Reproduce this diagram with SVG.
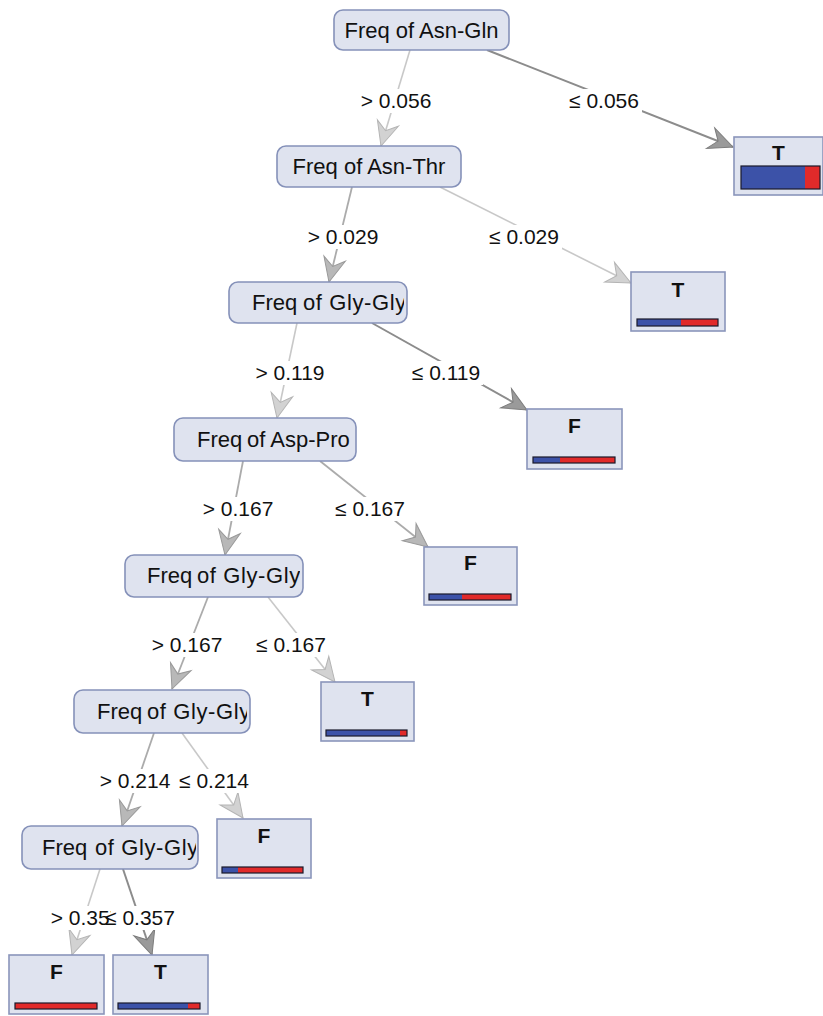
<svg xmlns="http://www.w3.org/2000/svg" width="823" height="1016" viewBox="0 0 823 1016">
  <style>
    .node rect { fill: #dfe3ef; stroke: #8591b9; stroke-width: 1.6; }
    .node text { font-family: "Liberation Sans", Arial, sans-serif; font-size: 22px; fill: #111; }
    .leaf rect.box { fill: #dfe3ef; stroke: #8a95bb; stroke-width: 1.6; }
    .leaf text { font-family: "Liberation Sans", Arial, sans-serif; font-size: 21px; font-weight: bold; fill: #111; text-anchor: middle; }
    .bar { stroke: #1a1a2a; stroke-width: 1.2; }
    .blue { fill: #3c52a8; }
    .red { fill: #e12a2a; }
    .edge { fill: none; }
    .light { stroke: #c8c8c8; stroke-width: 1.6; marker-end: url(#ahLight); }
    .mid { stroke: #ababab; stroke-width: 1.8; marker-end: url(#ahMid); }
    .dark { stroke: #8c8c8c; stroke-width: 2; marker-end: url(#ahDark); }
    .lbl text { font-family: "Liberation Sans", Arial, sans-serif; font-size: 21px; fill: #111; text-anchor: middle; }
    .lbl rect { fill: #ffffff; }
    .sp { letter-spacing: 0.6px; }
  </style>
  <defs>
    <marker id="ahLight" viewBox="-26 -13 28 26" refX="0" refY="0" markerWidth="28" markerHeight="26" markerUnits="userSpaceOnUse" orient="auto">
      <path d="M0,0 L-24,-11 L-16,0 L-24,11 Z" fill="#d2d2d2" stroke="#b4b4b4" stroke-width="1"/>
    </marker>
    <marker id="ahMid" viewBox="-26 -13 28 26" refX="0" refY="0" markerWidth="28" markerHeight="26" markerUnits="userSpaceOnUse" orient="auto">
      <path d="M0,0 L-24,-11 L-16,0 L-24,11 Z" fill="#b8b8b8" stroke="#999999" stroke-width="1"/>
    </marker>
    <marker id="ahDark" viewBox="-26 -13 28 26" refX="0" refY="0" markerWidth="28" markerHeight="26" markerUnits="userSpaceOnUse" orient="auto">
      <path d="M0,0 L-24,-11 L-16,0 L-24,11 Z" fill="#9a9a9a" stroke="#7c7c7c" stroke-width="1"/>
    </marker>
    <clipPath id="c3"><rect x="229" y="282" width="175" height="41"/></clipPath>
    <clipPath id="c4"><rect x="174" y="418" width="179" height="43"/></clipPath>
    <clipPath id="c5"><rect x="125" y="555" width="175" height="42"/></clipPath>
    <clipPath id="c6"><rect x="74" y="690" width="173" height="43"/></clipPath>
    <clipPath id="c7"><rect x="22" y="826" width="174" height="43"/></clipPath>
  </defs>

  <!-- connectors -->
  <g id="connectors">
    <line class="edge light" x1="410" y1="50" x2="381" y2="146"/>
    <line class="edge dark" x1="487" y1="50" x2="733" y2="147"/>
    <line class="edge mid" x1="352" y1="187" x2="329" y2="282"/>
    <line class="edge light" x1="440" y1="187" x2="631" y2="283"/>
    <line class="edge light" x1="297" y1="323" x2="277" y2="418"/>
    <line class="edge dark" x1="372" y1="323" x2="527" y2="410"/>
    <line class="edge mid" x1="243" y1="461" x2="225" y2="555"/>
    <line class="edge mid" x1="320" y1="461" x2="428" y2="547"/>
    <line class="edge mid" x1="208" y1="597" x2="172" y2="689"/>
    <line class="edge light" x1="268" y1="597" x2="335" y2="682"/>
    <line class="edge mid" x1="154" y1="733" x2="122" y2="826"/>
    <line class="edge light" x1="182" y1="733" x2="243" y2="818"/>
    <line class="edge light" x1="100" y1="869" x2="72" y2="955"/>
    <line class="edge dark" x1="123" y1="869" x2="152" y2="955"/>
  </g>

  <!-- edge labels -->
  <g id="labels" class="lbl">
    <rect x="358" y="89" width="76" height="24"/><text x="396" y="108">&gt; 0.056</text>
    <rect x="566" y="89" width="76" height="24"/><text x="604" y="108">≤ 0.056</text>
    <rect x="305" y="225" width="76" height="24"/><text x="343" y="244">&gt; 0.029</text>
    <rect x="486" y="225" width="76" height="24"/><text x="524" y="244">≤ 0.029</text>
    <rect x="254" y="361" width="72" height="24"/><text x="290" y="380">&gt; 0.119</text>
    <rect x="409" y="361" width="74" height="24"/><text x="446" y="380">≤ 0.119</text>
    <rect x="202" y="497" width="72" height="24"/><text x="238" y="516">&gt; 0.167</text>
    <rect x="333" y="497" width="74" height="24"/><text x="370" y="516">≤ 0.167</text>
    <rect x="151" y="633" width="72" height="24"/><text x="187" y="652">&gt; 0.167</text>
    <rect x="255" y="633" width="72" height="24"/><text x="291" y="652">≤ 0.167</text>
    <rect x="99" y="769" width="72" height="24"/><text x="135" y="788">&gt; 0.214</text>
    <rect x="178" y="769" width="72" height="24"/><text x="214" y="788">≤ 0.214</text>
    <rect x="49" y="906" width="72" height="24"/><text x="86" y="925">&gt; 0.357</text>
    <rect x="111" y="906" width="60" height="24"/><text x="140" y="925">≤ 0.357</text>
  </g>

  <!-- split nodes -->
  <g id="n1" class="node">
    <rect x="334" y="10" width="175" height="40" rx="9"/>
    <text x="421.5" y="38" text-anchor="middle">Freq of Asn-Gln</text>
  </g>
  <g id="n2" class="node">
    <rect x="277" y="146" width="184" height="41" rx="9"/>
    <text x="369" y="174" text-anchor="middle">Freq of Asn-Thr</text>
  </g>
  <g id="n3" class="node">
    <rect x="229" y="282" width="178" height="41" rx="9"/>
    <text y="310" clip-path="url(#c3)"><tspan x="252">Freq</tspan><tspan x="303" class="sp">of Gly-Gly</tspan></text>
  </g>
  <g id="n4" class="node">
    <rect x="174" y="418" width="182" height="43" rx="9"/>
    <text y="447" clip-path="url(#c4)"><tspan x="197">Freq</tspan><tspan x="247">of Asp-Pro</tspan></text>
  </g>
  <g id="n5" class="node">
    <rect x="125" y="555" width="178" height="42" rx="9"/>
    <text y="583" clip-path="url(#c5)"><tspan x="147">Freq</tspan><tspan x="197" class="sp">of Gly-Gly</tspan></text>
  </g>
  <g id="n6" class="node">
    <rect x="74" y="690" width="176" height="43" rx="9"/>
    <text y="719" clip-path="url(#c6)"><tspan x="97">Freq</tspan><tspan x="147" class="sp">of Gly-Gly</tspan></text>
  </g>
  <g id="n7" class="node">
    <rect x="22" y="826" width="176" height="43" rx="9"/>
    <text y="855" clip-path="url(#c7)"><tspan x="42">Freq</tspan><tspan x="95" class="sp">of Gly-Gly</tspan></text>
  </g>

  <!-- leaves: class label and class-share bar -->
  <g id="leaf1" class="leaf">
    <rect class="box" x="734" y="137" width="89" height="58"/>
    <text x="778.5" y="160">T</text>
    <rect class="blue" x="741" y="166" width="64" height="23"/>
    <rect class="red" x="805" y="166" width="15" height="23"/>
    <rect class="bar" x="741" y="166" width="79" height="23" fill="none"/>
  </g>
  <g id="leaf2" class="leaf">
    <rect class="box" x="631" y="272" width="94" height="59"/>
    <text x="678" y="297">T</text>
    <rect class="blue" x="637" y="319" width="44" height="7"/>
    <rect class="red" x="681" y="319" width="37" height="7"/>
    <rect class="bar" x="637" y="319" width="81" height="7" fill="none"/>
  </g>
  <g id="leaf3" class="leaf">
    <rect class="box" x="527" y="409" width="95" height="60"/>
    <text x="574.5" y="433">F</text>
    <rect class="blue" x="533" y="457" width="27" height="6"/>
    <rect class="red" x="560" y="457" width="55" height="6"/>
    <rect class="bar" x="533" y="457" width="82" height="6" fill="none"/>
  </g>
  <g id="leaf4" class="leaf">
    <rect class="box" x="424" y="547" width="93" height="58"/>
    <text x="470.5" y="570">F</text>
    <rect class="blue" x="429" y="594" width="33" height="6"/>
    <rect class="red" x="462" y="594" width="49" height="6"/>
    <rect class="bar" x="429" y="594" width="82" height="6" fill="none"/>
  </g>
  <g id="leaf5" class="leaf">
    <rect class="box" x="321" y="682" width="93" height="59"/>
    <text x="367.5" y="706">T</text>
    <rect class="blue" x="326" y="730" width="74" height="6"/>
    <rect class="red" x="400" y="730" width="7" height="6"/>
    <rect class="bar" x="326" y="730" width="81" height="6" fill="none"/>
  </g>
  <g id="leaf6" class="leaf">
    <rect class="box" x="217" y="819" width="94" height="59"/>
    <text x="264" y="843">F</text>
    <rect class="blue" x="222" y="867" width="16" height="6"/>
    <rect class="red" x="238" y="867" width="65" height="6"/>
    <rect class="bar" x="222" y="867" width="81" height="6" fill="none"/>
  </g>
  <g id="leaf7" class="leaf">
    <rect class="box" x="9" y="955" width="95" height="59"/>
    <text x="56.5" y="979">F</text>
    <rect class="red" x="15" y="1003" width="82" height="6"/>
    <rect class="bar" x="15" y="1003" width="82" height="6" fill="none"/>
  </g>
  <g id="leaf8" class="leaf">
    <rect class="box" x="113" y="955" width="95" height="59"/>
    <text x="160.5" y="979">T</text>
    <rect class="blue" x="118" y="1003" width="70" height="6"/>
    <rect class="red" x="188" y="1003" width="12" height="6"/>
    <rect class="bar" x="118" y="1003" width="82" height="6" fill="none"/>
  </g>
</svg>
